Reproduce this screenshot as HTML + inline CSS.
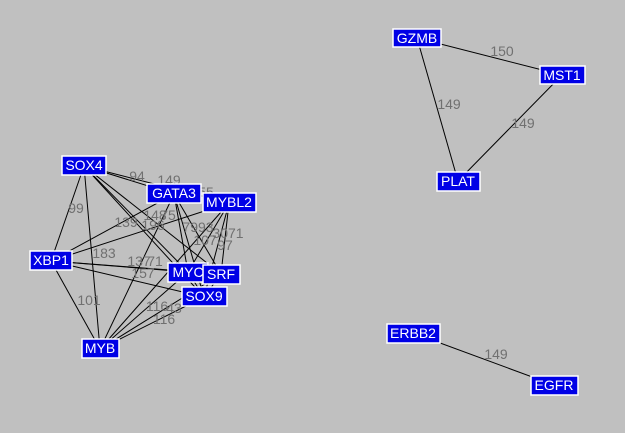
<!DOCTYPE html><html><head><style>body{margin:0;background:#c0c0c0}svg{display:block}
.n rect{fill:#0000e6;stroke:#fff;stroke-width:1.5}.n text{fill:#fff;font:14px "Liberation Sans",sans-serif;text-anchor:middle}
.l{fill:#707070;font:14px "Liberation Sans",sans-serif;text-anchor:middle}line{stroke:#000;stroke-width:1}</style></head><body>
<svg width="625" height="433">
<g id="e">
<line x1="84" y1="166" x2="174" y2="194"/><line x1="84" y1="166" x2="229" y2="203"/><line x1="84" y1="166" x2="51" y2="261"/><line x1="84" y1="166" x2="188" y2="272"/><line x1="84" y1="166" x2="221" y2="274"/><line x1="84" y1="166" x2="204" y2="297"/><line x1="84" y1="166" x2="100" y2="349"/>
<line x1="174" y1="194" x2="51" y2="261"/><line x1="174" y1="194" x2="188" y2="272"/><line x1="174" y1="194" x2="221" y2="274"/><line x1="174" y1="194" x2="204" y2="297"/><line x1="174" y1="194" x2="100" y2="349"/>
<line x1="229" y1="203" x2="51" y2="261"/><line x1="229" y1="203" x2="188" y2="272"/><line x1="229" y1="203" x2="221" y2="274"/><line x1="229" y1="203" x2="204" y2="297"/><line x1="229" y1="203" x2="100" y2="349"/>
<line x1="51" y1="261" x2="188" y2="272"/><line x1="51" y1="261" x2="204" y2="297"/><line x1="51" y1="261" x2="100" y2="349"/><line x1="51" y1="261" x2="221" y2="274"/>
<line x1="188" y1="272" x2="100" y2="349"/><line x1="221" y1="274" x2="100" y2="349"/><line x1="204" y1="297" x2="100" y2="349"/><line x1="188" y1="272" x2="204" y2="297"/><line x1="221" y1="274" x2="204" y2="297"/>
<line x1="417" y1="38" x2="562" y2="75"/><line x1="417" y1="38" x2="458" y2="181"/><line x1="562" y1="75" x2="458" y2="181"/><line x1="413" y1="333" x2="554" y2="385"/>
</g>
<text class="l" x="137" y="181">94</text><text class="l" x="169" y="185">149</text><text class="l" x="206" y="197">55</text>
<text class="l" x="76" y="213">99</text><text class="l" x="126" y="227">139</text><text class="l" x="155" y="220">148</text><text class="l" x="168" y="220">75</text><text class="l" x="153" y="230">196</text><text class="l" x="198" y="232">7993</text><text class="l" x="228" y="238">3071</text><text class="l" x="205" y="245">107</text><text class="l" x="225" y="250">97</text>
<text class="l" x="104" y="258">183</text><text class="l" x="139" y="266">137</text><text class="l" x="155" y="266">71</text><text class="l" x="143" y="278">157</text>
<text class="l" x="89" y="305">101</text><text class="l" x="157" y="311">116</text><text class="l" x="174" y="313">43</text><text class="l" x="164" y="324">116</text>
<text class="l" x="502" y="56">150</text><text class="l" x="449" y="109">149</text><text class="l" x="523" y="128">149</text><text class="l" x="496" y="359">149</text>
<g class="n"><rect x="62" y="156" width="44" height="19"/><text x="84" y="170">SOX4</text>
<rect x="147" y="184" width="54" height="19"/><text x="174" y="198">GATA3</text>
<rect x="203" y="193" width="53" height="19"/><text x="229" y="207">MYBL2</text>
<rect x="30" y="251" width="42" height="19"/><text x="51" y="265">XBP1</text>
<rect x="168" y="263" width="40" height="19"/><text x="188" y="277">MYC</text>
<rect x="182" y="287" width="45" height="19"/><text x="204" y="301">SOX9</text>
<rect x="203" y="265" width="37" height="19"/><text x="221" y="279">SRF</text>
<rect x="82" y="339" width="37" height="19"/><text x="100" y="353">MYB</text>
<rect x="393" y="29" width="48" height="18"/><text x="417" y="43">GZMB</text>
<rect x="540" y="66" width="45" height="18"/><text x="562" y="80">MST1</text>
<rect x="437" y="172" width="43" height="19"/><text x="458" y="186">PLAT</text>
<rect x="387" y="324" width="53" height="19"/><text x="413" y="338">ERBB2</text>
<rect x="531" y="376" width="47" height="19"/><text x="554" y="390">EGFR</text></g>
</svg></body></html>
